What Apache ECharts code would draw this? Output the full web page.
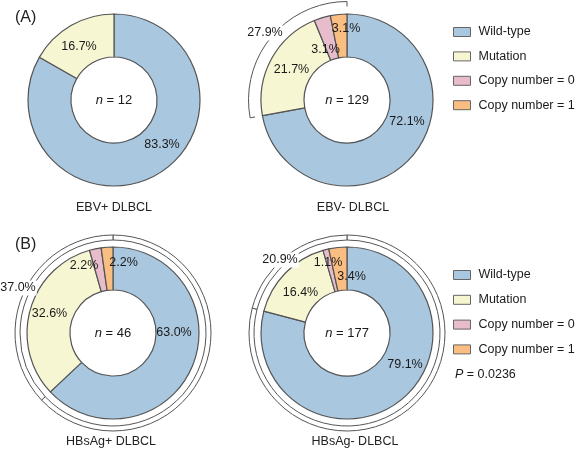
<!DOCTYPE html>
<html><head><meta charset="utf-8">
<script src="https://cdn.jsdelivr.net/npm/echarts@6/dist/echarts.min.js"></script>
<style>html,body{margin:0;padding:0;background:#fff}#c{width:577px;height:451px}</style>
</head><body><div id="c"></div>
<script>
// ---- data ----
const categories = ['Wild-type', 'Mutation', 'Copy number = 0', 'Copy number = 1'];
const panelTitles = ['EBV+ DLBCL', 'EBV- DLBCL', 'HBsAg+ DLBCL', 'HBsAg- DLBCL'];
const panelTags = ['(A)', '(B)'];
const sampleSizes = [12, 129, 46, 177];
const ebvPosValues = [83.3, 16.7, 0, 0];
const ebvNegValues = [72.1, 21.7, 3.1, 3.1];
const hbsPosValues = [63.0, 32.6, 2.2, 2.2];
const hbsNegValues = [79.1, 16.4, 1.1, 3.4];
const alteredTotals = [null, 27.9, 37.0, 20.9];
const pValueText = '0.0236';

// ---- style / layout ----
const FONT = '"Liberation Sans", Arial, sans-serif';
const colors = ['#a9c7df', '#f7f6d3', '#e8bdcb', '#fbbe82'];
const edge = '#555';
const centers = [[114, 100], [347, 100], [113, 333], [347, 333]];
const R_IN = 43, R_OUT = 86;
const labelOffsets = [
  [[48, 45], [-35, -53], null, null],
  [[60, 22], [-55.5, -30], [-21.5, -50], [-1, -71]],
  [[61, 0], [-63.5, -19], [-29, -67], [10.5, -70]],
  [[58, 32], [-46.5, -40], [-19, -70], [4.5, -56]]
];
const outerLabelOffsets = [null, [-82, -67], [-95, -45], [-67, -73]];
const bracketKind = [null, 'arc', 'ring', 'ring'];
const titlePos = [[114, 208], [353, 208], [111, 442], [355, 442]];

const allValues = [ebvPosValues, ebvNegValues, hbsPosValues, hbsNegValues];
const series = [];

allValues.forEach((values, i) => {
  const [cx, cy] = centers[i];
  const kept = [];
  const data = [];
  categories.forEach((c, k) => {
    if (values[k] > 0) {
      kept.push(k);
      data.push({ name: c, value: values[k], itemStyle: { color: colors[k] } });
    }
  });
  series.push({
    type: 'pie', center: [cx, cy], radius: [R_IN, R_OUT], startAngle: 90,
    avoidLabelOverlap: false, silent: true, animation: false,
    itemStyle: { borderColor: edge, borderWidth: 1.2 },
    label: { show: true, position: 'inside', color: '#1a1a1a', fontSize: 12.5, fontFamily: FONT,
      formatter: p => p.value.toFixed(1) + '%' },
    labelLine: { show: false },
    labelLayout: p => {
      const off = labelOffsets[i][kept[p.dataIndex]];
      return { x: cx + off[0], y: cy + off[1], align: 'center', verticalAlign: 'middle' };
    },
    emphasis: { disabled: true },
    data
  });

  const kind = bracketKind[i];
  if (kind) {
    const alt = alteredTotals[i];
    const off = outerLabelOffsets[i];
    series.push({
      type: 'pie', center: [cx, cy], radius: kind === 'ring' ? [93, 98] : [92, 98.5], startAngle: 90,
      avoidLabelOverlap: false, silent: true, animation: false,
      emphasis: { disabled: true },
      labelLine: { show: false },
      label: { show: false },
      labelLayout: p => ({ x: cx + off[0], y: cy + off[1], align: 'center', verticalAlign: 'middle' }),
      data: [
        { name: '', value: 100 - alt,
          itemStyle: kind === 'ring' ? { color: '#fff', borderColor: edge, borderWidth: 1 } : { color: 'rgba(0,0,0,0)', borderWidth: 0 } },
        { name: '', value: alt, itemStyle: { color: '#fff', borderColor: edge, borderWidth: 1 },
          label: { show: true, position: 'inside', formatter: alt.toFixed(1) + '%', color: '#1a1a1a', fontSize: 12.5,
            fontFamily: FONT, backgroundColor: '#fff', padding: [1, 1] } }
      ]
    });
    if (kind === 'arc') {
      series.push({
        type: 'pie', center: [cx, cy], radius: [87.5, 93.5], startAngle: 90, silent: true, animation: false,
        label: { show: false }, labelLine: { show: false }, emphasis: { disabled: true },
        itemStyle: { color: '#fff', borderWidth: 0 },
        data: [{ name: '', value: 1 }]
      });
    }
  }
});

const graphic = [];
panelTags.forEach((t, j) => {
  graphic.push({ type: 'text', x: 15, y: j === 0 ? 18 : 245,
    style: { text: t, font: '16px ' + FONT, fill: '#222', verticalAlign: 'middle', textVerticalAlign: 'middle' } });
});
panelTitles.forEach((t, i) => {
  graphic.push({ type: 'text', x: titlePos[i][0], y: titlePos[i][1],
    style: { text: t, font: '12.5px ' + FONT, fill: '#222', align: 'center', verticalAlign: 'middle',
      textAlign: 'center', textVerticalAlign: 'middle' } });
});
sampleSizes.forEach((n, i) => {
  graphic.push({ type: 'text', x: centers[i][0], y: centers[i][1],
    style: { text: '{i|n} = ' + n, font: '13px ' + FONT, fill: '#1a1a1a', align: 'center', verticalAlign: 'middle',
      textAlign: 'center', textVerticalAlign: 'middle',
      rich: { i: { fontStyle: 'italic', fontSize: 13, fontFamily: FONT, fill: '#1a1a1a', color: '#1a1a1a' } } } });
});
graphic.push({ type: 'text', x: 455, y: 375,
  style: { text: '{i|P} = ' + pValueText, font: '12.5px ' + FONT, fill: '#1a1a1a', verticalAlign: 'middle',
    textVerticalAlign: 'middle',
    rich: { i: { fontStyle: 'italic', fontSize: 12.5, fontFamily: FONT, fill: '#1a1a1a', color: '#1a1a1a' } } } });

const legendBase = {
  orient: 'vertical', left: 453, icon: 'rect', itemWidth: 17, itemHeight: 9, padding: 0,
  selectedMode: false,
  itemStyle: { borderColor: '#666', borderWidth: 1 },
  textStyle: { fontSize: 12.5, fontFamily: FONT, color: '#1a1a1a', lineHeight: 14, padding: [0, 0, 0, 3] },
  data: categories
};

const chart = echarts.init(document.getElementById('c'), null, { renderer: 'canvas' });
chart.setOption({
  animation: false,
  color: colors,
  legend: [
    Object.assign({}, legendBase, { top: 25, itemGap: 10.4 }),
    Object.assign({}, legendBase, { top: 268, itemGap: 10.8 })
  ],
  graphic,
  series
});
</script></body></html>
